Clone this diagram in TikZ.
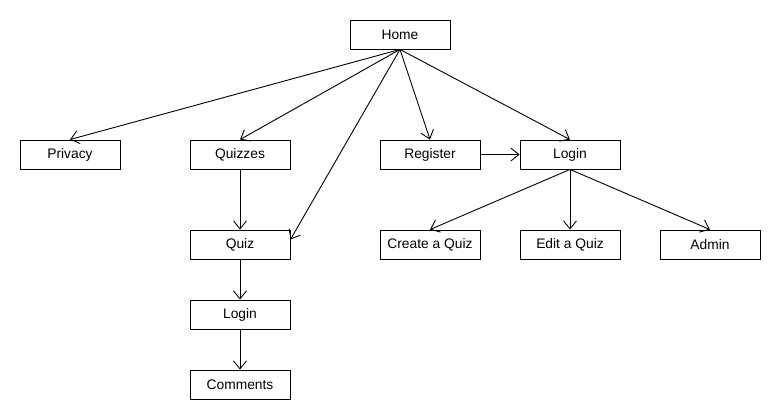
\documentclass[tikz,border=0pt]{standalone}
\usepackage{fontspec}
\setmainfont{Liberation Sans}
\usetikzlibrary{arrows.meta}
\begin{document}
\begin{tikzpicture}
[
x=1pt,y=-1pt,
line width=0.9pt,
page/.style={rectangle,draw,minimum width=100pt,minimum height=29pt,inner sep=0pt,font=\fontsize{13.8}{16}\selectfont},
link/.style={-{Straight Barb[length=8pt,width=13pt,line width=0.9pt]}}
]
\useasboundingbox (0,0) rectangle (780,420);
  \node[page] (home) at (400,34.5) {Home};
  \node[page] (privacy) at (70,154.5) {Privacy};
  \node[page] (quizzes) at (240,154.5) {Quizzes};
  \node[page] (register) at (430,154.5) {Register};
  \node[page] (login) at (570,154.5) {Login};
  \node[page] (quiz) at (240,244.5) {Quiz};
  \node[page] (create) at (430,244.5) {Create a Quiz};
  \node[page] (edit) at (570,244.5) {Edit a Quiz};
  \node[page] (admin) at (710,244.5) {Admin};
  \node[page] (quizlogin) at (240,314.5) {Login};
  \node[page] (comments) at (240,384.5) {Comments};
  \draw[link] (home.south) -- (privacy.north);
  \draw[link] (home.south) -- (quizzes.north);
  \draw[link] (home.south) -- ([yshift=5pt]quiz.east);
  \draw[link] (home.south) -- (register.north);
  \draw[link] (home.south) -- (login.north);
  \draw[link] (register) -- (login);
  \draw[link] (login.south) -- (create.north);
  \draw[link] (login.south) -- (edit.north);
  \draw[link] (login.south) -- (admin.north);
  \draw[link] (quizzes) -- (quiz);
  \draw[link] (quiz) -- (quizlogin);
  \draw[link] (quizlogin) -- (comments);
\end{tikzpicture}
\end{document}
